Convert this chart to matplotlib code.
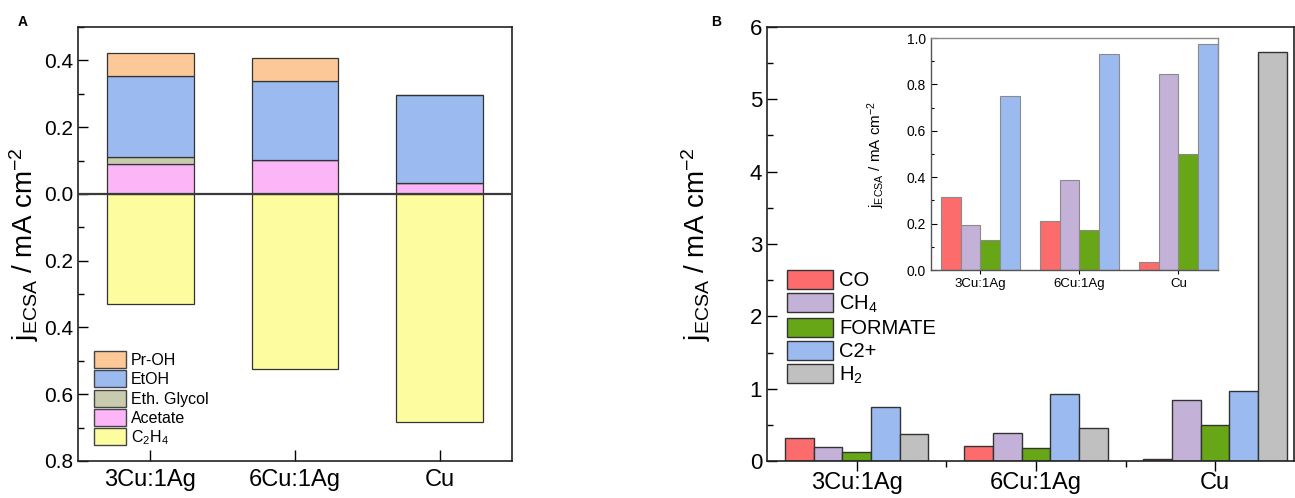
import matplotlib
matplotlib.use("Agg")
import matplotlib.pyplot as plt
from matplotlib.patches import Patch
from matplotlib.ticker import MultipleLocator, FuncFormatter
import numpy as np

plt.rcParams['font.family'] = ['Liberation Sans', 'DejaVu Sans']
plt.rcParams['mathtext.fontset'] = 'custom'
plt.rcParams['mathtext.rm'] = 'Liberation Sans'
plt.rcParams['mathtext.it'] = 'Liberation Sans:italic'
plt.rcParams['mathtext.bf'] = 'Liberation Sans:bold'

# ---------------- data ----------------
catalysts = ["3Cu:1Ag", "6Cu:1Ag", "Cu"]

# Panel A (stacked, mA cm-2); C2H4 plotted downward
acetate = [0.089, 0.101, 0.033]
eth_glycol = [0.022, 0.0, 0.0]
etoh = [0.242, 0.238, 0.262]
proh = [0.070, 0.069, 0.0]
c2h4 = [0.331, 0.524, 0.684]

# Panel B (grouped)
co = [0.316, 0.210, 0.033]
ch4 = [0.195, 0.387, 0.843]
formate = [0.129, 0.174, 0.498]
c2plus = [0.750, 0.929, 0.974]
h2 = [0.37, 0.45, 5.66]

col_proh = "#FDC897"
col_etoh = "#9BBBF0"
col_glyc = "#C8CBAE"
col_acet = "#FCB5F6"
col_c2h4 = "#FDFC9E"
col_co = "#FD6C6C"
col_ch4 = "#C3B1D7"
col_form = "#67A616"
col_c2p = "#9BBBF0"
col_h2 = "#C0C0C0"

ylab = r"j$_{\mathrm{ECSA}}$ / mA cm$^{-2}$"

fig = plt.figure(figsize=(12.95, 4.98), dpi=100)

# ---------------- Panel A ----------------
axA = fig.add_axes([78/1295, 37/498, 434/1295, 434/498])
x = np.arange(len(catalysts))
w = 0.6
ec = "#333333"
lw = 0.9
b_ac = np.array(acetate)
b_gl = b_ac + np.array(eth_glycol)
b_et = b_gl + np.array(etoh)
axA.bar(x, acetate, w, color=col_acet, edgecolor=ec, linewidth=lw)
axA.bar(x, eth_glycol, w, bottom=b_ac, color=col_glyc, edgecolor=ec, linewidth=lw)
axA.bar(x, etoh, w, bottom=b_gl, color=col_etoh, edgecolor=ec, linewidth=lw)
axA.bar(x, proh, w, bottom=b_et, color=col_proh, edgecolor=ec, linewidth=lw)
axA.bar(x, -np.array(c2h4), w, color=col_c2h4, edgecolor=ec, linewidth=lw)
axA.axhline(0, color="#3a3a3a", linewidth=1.6, zorder=5)
axA.set_xlim(-0.5, 2.5)
axA.set_ylim(-0.8, 0.5)
axA.yaxis.set_major_locator(MultipleLocator(0.2))
axA.yaxis.set_minor_locator(MultipleLocator(0.1))
axA.yaxis.set_major_formatter(FuncFormatter(lambda v, p: f"{abs(v):.1f}"))
axA.set_xticks(x)
axA.set_xticklabels(catalysts, fontsize=17)
axA.tick_params(axis='y', which='both', direction='in', labelsize=15)
axA.tick_params(axis='y', which='major', length=7, width=1)
axA.tick_params(axis='y', which='minor', length=4, width=1)
axA.tick_params(axis='x', which='major', direction='in', length=8, width=1, pad=6)
for s in axA.spines.values():
    s.set_linewidth(1.2)
    s.set_color("#222222")
axA.set_ylabel(ylab, fontsize=20)
axA.yaxis.set_label_coords(-37/434, 0.5)
hA = [Patch(facecolor=col_proh, edgecolor="#444444", label="Pr-OH"),
      Patch(facecolor=col_etoh, edgecolor="#444444", label="EtOH"),
      Patch(facecolor=col_glyc, edgecolor="#444444", label="Eth. Glycol"),
      Patch(facecolor=col_acet, edgecolor="#444444", label="Acetate"),
      Patch(facecolor=col_c2h4, edgecolor="#444444", label="C$_2$H$_4$")]
axA.legend(handles=hA, loc="lower left", bbox_to_anchor=(16/434, 14/434),
           frameon=False, fontsize=11.5, handlelength=2.0, handleheight=1.25,
           labelspacing=0.15, handletextpad=0.3, borderpad=0, borderaxespad=0)
fig.text(18/1295, 1 - 22/498, "A", fontsize=10, fontweight="bold", va="center")

# ---------------- Panel B ----------------
axB = fig.add_axes([767/1295, 37/498, 527/1295, 434/498])
bw = 0.16
series = [(co, col_co), (ch4, col_ch4), (formate, col_form), (c2plus, col_c2p), (h2, col_h2)]
for i, (vals, c) in enumerate(series):
    axB.bar(x + (i - 2) * bw, vals, bw, color=c, edgecolor="#333333", linewidth=1.0)
axB.set_xlim(-0.5, 2.44)
axB.set_ylim(0, 6)
axB.yaxis.set_major_locator(MultipleLocator(1))
axB.yaxis.set_minor_locator(MultipleLocator(0.5))
axB.set_xticks(x)
axB.set_xticks([0.5, 1.5], minor=True)
axB.set_xticklabels(catalysts, fontsize=17)
axB.tick_params(axis='y', which='both', direction='in', labelsize=16)
axB.tick_params(axis='y', which='major', length=7, width=1)
axB.tick_params(axis='y', which='minor', length=4, width=1)
axB.tick_params(axis='x', which='major', direction='out', length=7, width=1, pad=1)
axB.tick_params(axis='x', which='minor', direction='out', length=4, width=1)
for s in axB.spines.values():
    s.set_linewidth(1.2)
    s.set_color("#222222")
axB.set_ylabel(ylab, fontsize=20)
axB.yaxis.set_label_coords(-54/527, 0.5)
hB = [Patch(facecolor=col_co, edgecolor="#333333", label="CO"),
      Patch(facecolor=col_ch4, edgecolor="#333333", label="CH$_4$"),
      Patch(facecolor=col_form, edgecolor="#333333", label="FORMATE"),
      Patch(facecolor=col_c2p, edgecolor="#333333", label="C2+"),
      Patch(facecolor=col_h2, edgecolor="#333333", label="H$_2$")]
axB.legend(handles=hB, loc="lower left", bbox_to_anchor=(20/527, 75/434),
           frameon=False, fontsize=14.5, handlelength=2.3, handleheight=1.05,
           labelspacing=0.15, handletextpad=0.3, borderpad=0, borderaxespad=0)
fig.text(711/1295, 1 - 22/498, "B", fontsize=10, fontweight="bold", va="center")

# ---------------- Inset ----------------
axI = fig.add_axes([931/1295, (498 - 270)/498, 287/1295, 232/498])
ibw = 0.2
iseries = [(co, col_co), (ch4, col_ch4), (formate, col_form), (c2plus, col_c2p)]
for i, (vals, c) in enumerate(iseries):
    axI.bar(x + (i - 1.5) * ibw, vals, ibw, color=c, edgecolor="#8a8a8a", linewidth=0.8)
axI.set_xlim(-0.5, 2.4)
axI.set_ylim(0, 1.0)
axI.yaxis.set_major_locator(MultipleLocator(0.2))
axI.yaxis.set_minor_locator(MultipleLocator(0.1))
axI.yaxis.set_major_formatter(FuncFormatter(lambda v, p: f"{v:.1f}"))
axI.set_xticks(x)
axI.set_xticklabels(catalysts, fontsize=9.5)
axI.tick_params(axis='y', which='both', direction='in', labelsize=10)
axI.tick_params(axis='y', which='major', length=4, width=0.8)
axI.tick_params(axis='y', which='minor', length=2, width=0.8)
axI.tick_params(axis='x', which='major', direction='out', length=3, width=0.8, pad=3)
for k, s in axI.spines.items():
    s.set_linewidth(1.0)
    s.set_color("#555555" if k in ("left", "bottom") else "#8a8a8a")
axI.set_ylabel(ylab, fontsize=11)
axI.yaxis.set_label_coords(-44/287, 0.5)

fig.savefig("out.png", dpi=100)
